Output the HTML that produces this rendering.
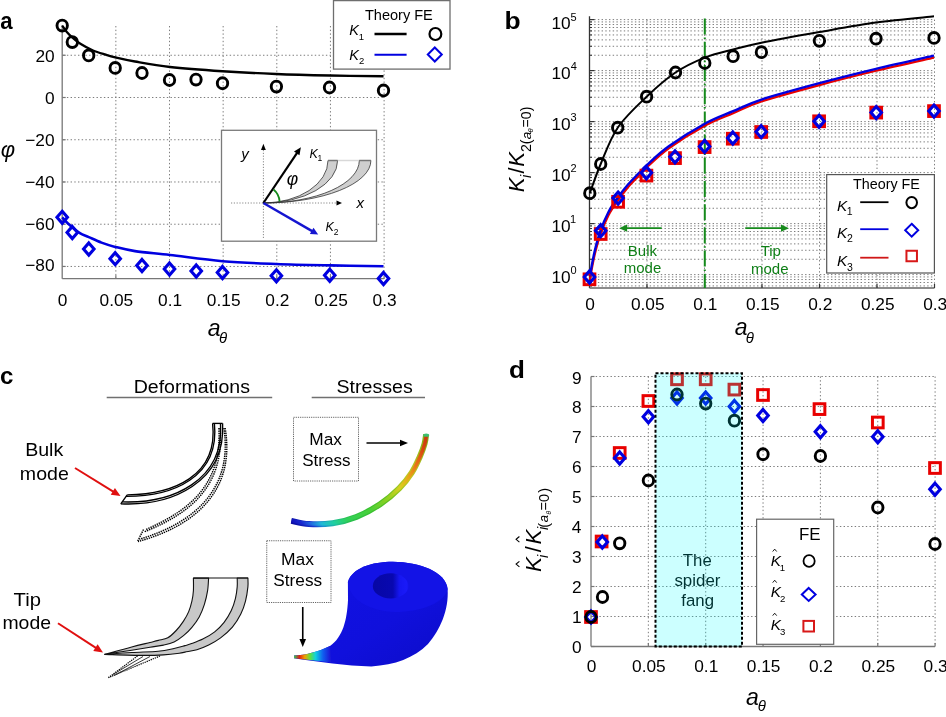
<!DOCTYPE html>
<html><head><meta charset="utf-8"><style>
html,body{margin:0;padding:0;background:#fff;width:946px;height:717px;overflow:hidden;}
svg{display:block;filter:blur(0.35px);}
text{font-family:"Liberation Sans",sans-serif;}
</style></head><body>
<svg width="946" height="717" viewBox="0 0 946 717">
<rect width="946" height="717" fill="#fff"/>
<line x1="63.20" y1="55.26" x2="384.10" y2="55.26" stroke="#7c7c7c" stroke-width="1" stroke-dasharray="1.4 2.3"/>
<line x1="63.20" y1="97.50" x2="384.10" y2="97.50" stroke="#7c7c7c" stroke-width="1" stroke-dasharray="1.4 2.3"/>
<line x1="63.20" y1="139.74" x2="384.10" y2="139.74" stroke="#7c7c7c" stroke-width="1" stroke-dasharray="1.4 2.3"/>
<line x1="63.20" y1="181.98" x2="384.10" y2="181.98" stroke="#7c7c7c" stroke-width="1" stroke-dasharray="1.4 2.3"/>
<line x1="63.20" y1="224.22" x2="384.10" y2="224.22" stroke="#7c7c7c" stroke-width="1" stroke-dasharray="1.4 2.3"/>
<line x1="63.20" y1="266.46" x2="384.10" y2="266.46" stroke="#7c7c7c" stroke-width="1" stroke-dasharray="1.4 2.3"/>
<line x1="115.85" y1="26.00" x2="115.85" y2="278.70" stroke="#7c7c7c" stroke-width="1" stroke-dasharray="1.4 2.3"/>
<line x1="169.50" y1="26.00" x2="169.50" y2="278.70" stroke="#7c7c7c" stroke-width="1" stroke-dasharray="1.4 2.3"/>
<line x1="223.15" y1="26.00" x2="223.15" y2="278.70" stroke="#7c7c7c" stroke-width="1" stroke-dasharray="1.4 2.3"/>
<line x1="276.80" y1="26.00" x2="276.80" y2="278.70" stroke="#7c7c7c" stroke-width="1" stroke-dasharray="1.4 2.3"/>
<line x1="330.45" y1="26.00" x2="330.45" y2="278.70" stroke="#7c7c7c" stroke-width="1" stroke-dasharray="1.4 2.3"/>
<line x1="384.10" y1="26.00" x2="384.10" y2="278.70" stroke="#7c7c7c" stroke-width="1" stroke-dasharray="1.4 2.3"/>
<line x1="62.20" y1="25.00" x2="62.20" y2="278.70" stroke="#777777" stroke-width="1.30" />
<line x1="62.20" y1="278.70" x2="384.10" y2="278.70" stroke="#777777" stroke-width="1.30" />
<line x1="62.20" y1="55.26" x2="65.70" y2="55.26" stroke="#777777" stroke-width="1.20" />
<line x1="62.20" y1="97.50" x2="65.70" y2="97.50" stroke="#777777" stroke-width="1.20" />
<line x1="62.20" y1="139.74" x2="65.70" y2="139.74" stroke="#777777" stroke-width="1.20" />
<line x1="62.20" y1="181.98" x2="65.70" y2="181.98" stroke="#777777" stroke-width="1.20" />
<line x1="62.20" y1="224.22" x2="65.70" y2="224.22" stroke="#777777" stroke-width="1.20" />
<line x1="62.20" y1="266.46" x2="65.70" y2="266.46" stroke="#777777" stroke-width="1.20" />
<line x1="115.85" y1="278.70" x2="115.85" y2="275.20" stroke="#777777" stroke-width="1.20" />
<line x1="169.50" y1="278.70" x2="169.50" y2="275.20" stroke="#777777" stroke-width="1.20" />
<line x1="223.15" y1="278.70" x2="223.15" y2="275.20" stroke="#777777" stroke-width="1.20" />
<line x1="276.80" y1="278.70" x2="276.80" y2="275.20" stroke="#777777" stroke-width="1.20" />
<line x1="330.45" y1="278.70" x2="330.45" y2="275.20" stroke="#777777" stroke-width="1.20" />
<line x1="384.10" y1="278.70" x2="384.10" y2="275.20" stroke="#777777" stroke-width="1.20" />
<text transform="translate(35.49,61.76)" font-size="17.30" >20</text>
<text transform="translate(45.00,103.70)" font-size="17.30" >0</text>
<text transform="translate(25.28,145.64)" font-size="17.30" >−20</text>
<text transform="translate(25.28,187.58)" font-size="17.30" >−40</text>
<text transform="translate(25.28,229.52)" font-size="17.30" >−60</text>
<text transform="translate(25.28,271.46)" font-size="17.30" >−80</text>
<text transform="translate(57.86,305.70)" font-size="17.30" >0</text>
<text transform="translate(99.57,305.70)" font-size="17.30" >0.05</text>
<text transform="translate(158.06,305.70)" font-size="17.30" >0.1</text>
<text transform="translate(206.87,305.70)" font-size="17.30" >0.15</text>
<text transform="translate(265.36,305.70)" font-size="17.30" >0.2</text>
<text transform="translate(314.17,305.70)" font-size="17.30" >0.25</text>
<text transform="translate(372.58,305.70)" font-size="17.30" >0.3</text>
<text transform="translate(207.74,335.80)" font-size="23.00" font-style="italic" >a</text>
<text transform="translate(219.05,342.70)" font-size="15.00" font-family="Liberation Serif" font-style="italic" >θ</text>
<text transform="translate(0.74,157.00)" font-size="22.00" font-family="Liberation Serif" font-style="italic" >φ</text>
<text transform="translate(0.23,28.60) scale(0.9087,1)" font-size="24.50" font-weight="bold" >a</text>
<path d="M62.20,25.60 C62.97,26.65 65.08,29.90 66.80,31.90 C68.52,33.90 70.23,35.62 72.50,37.60 C74.77,39.58 76.98,41.65 80.40,43.80 C83.82,45.95 88.78,48.68 93.00,50.50 C97.22,52.32 102.00,53.57 105.70,54.70 C109.40,55.83 110.32,56.17 115.20,57.30 C120.08,58.43 125.87,59.88 135.00,61.50 C144.13,63.12 155.42,65.38 170.00,67.00 C184.58,68.62 204.83,70.08 222.50,71.25 C240.17,72.42 258.08,73.29 276.00,74.00 C293.92,74.71 312.08,75.12 330.00,75.50 C347.92,75.88 374.58,76.12 383.50,76.25" fill="none" stroke="#000" stroke-width="2.3"/>
<path d="M62.20,217.30 C63.12,218.28 64.82,220.60 67.70,223.20 C70.58,225.80 75.98,230.58 79.50,232.90 C83.02,235.22 85.13,235.48 88.80,237.10 C92.47,238.72 97.10,240.97 101.50,242.60 C105.90,244.23 109.62,245.48 115.20,246.90 C120.78,248.32 125.87,249.75 135.00,251.10 C144.13,252.45 155.42,253.32 170.00,255.00 C184.58,256.68 204.83,259.70 222.50,261.20 C240.17,262.70 258.08,263.30 276.00,264.00 C293.92,264.70 312.08,265.03 330.00,265.40 C347.92,265.77 374.58,266.07 383.50,266.20" fill="none" stroke="#0000e0" stroke-width="2.6"/>
<ellipse cx="62.20" cy="25.60" rx="5.20" ry="5.46" fill="none" stroke="#000" stroke-width="2.90"/>
<ellipse cx="72.30" cy="42.10" rx="5.20" ry="5.46" fill="none" stroke="#000" stroke-width="2.90"/>
<ellipse cx="88.70" cy="55.40" rx="5.20" ry="5.46" fill="none" stroke="#000" stroke-width="2.90"/>
<ellipse cx="115.20" cy="67.90" rx="5.20" ry="5.46" fill="none" stroke="#000" stroke-width="2.90"/>
<ellipse cx="142.00" cy="73.00" rx="5.20" ry="5.46" fill="none" stroke="#000" stroke-width="2.90"/>
<ellipse cx="169.50" cy="80.00" rx="5.20" ry="5.46" fill="none" stroke="#000" stroke-width="2.90"/>
<ellipse cx="196.00" cy="79.60" rx="5.20" ry="5.46" fill="none" stroke="#000" stroke-width="2.90"/>
<ellipse cx="222.50" cy="83.25" rx="5.20" ry="5.46" fill="none" stroke="#000" stroke-width="2.90"/>
<ellipse cx="276.40" cy="86.60" rx="5.20" ry="5.46" fill="none" stroke="#000" stroke-width="2.90"/>
<ellipse cx="329.50" cy="87.50" rx="5.20" ry="5.46" fill="none" stroke="#000" stroke-width="2.90"/>
<ellipse cx="383.50" cy="90.50" rx="5.20" ry="5.46" fill="none" stroke="#000" stroke-width="2.90"/>
<path d="M62.20,211.25L67.45,217.30L62.20,223.35L56.95,217.30Z" fill="none" stroke="#0000e0" stroke-width="3.10" stroke-linejoin="miter" stroke-miterlimit="10"/>
<path d="M72.30,226.45L77.55,232.50L72.30,238.55L67.05,232.50Z" fill="none" stroke="#0000e0" stroke-width="3.10" stroke-linejoin="miter" stroke-miterlimit="10"/>
<path d="M88.80,242.95L94.05,249.00L88.80,255.05L83.55,249.00Z" fill="none" stroke="#0000e0" stroke-width="3.10" stroke-linejoin="miter" stroke-miterlimit="10"/>
<path d="M115.20,252.65L120.45,258.70L115.20,264.75L109.95,258.70Z" fill="none" stroke="#0000e0" stroke-width="3.10" stroke-linejoin="miter" stroke-miterlimit="10"/>
<path d="M142.00,259.45L147.25,265.50L142.00,271.55L136.75,265.50Z" fill="none" stroke="#0000e0" stroke-width="3.10" stroke-linejoin="miter" stroke-miterlimit="10"/>
<path d="M169.50,262.95L174.75,269.00L169.50,275.05L164.25,269.00Z" fill="none" stroke="#0000e0" stroke-width="3.10" stroke-linejoin="miter" stroke-miterlimit="10"/>
<path d="M196.25,264.95L201.50,271.00L196.25,277.05L191.00,271.00Z" fill="none" stroke="#0000e0" stroke-width="3.10" stroke-linejoin="miter" stroke-miterlimit="10"/>
<path d="M222.50,266.45L227.75,272.50L222.50,278.55L217.25,272.50Z" fill="none" stroke="#0000e0" stroke-width="3.10" stroke-linejoin="miter" stroke-miterlimit="10"/>
<path d="M276.40,269.75L281.65,275.80L276.40,281.85L271.15,275.80Z" fill="none" stroke="#0000e0" stroke-width="3.10" stroke-linejoin="miter" stroke-miterlimit="10"/>
<path d="M329.75,269.20L335.00,275.25L329.75,281.30L324.50,275.25Z" fill="none" stroke="#0000e0" stroke-width="3.10" stroke-linejoin="miter" stroke-miterlimit="10"/>
<path d="M383.50,272.45L388.75,278.50L383.50,284.55L378.25,278.50Z" fill="none" stroke="#0000e0" stroke-width="3.10" stroke-linejoin="miter" stroke-miterlimit="10"/>
<rect x="333.5" y="0.6" width="116.5" height="68.5" fill="#fff" stroke="#6e6e6e" stroke-width="1.3"/>
<text transform="translate(364.91,19.70) scale(1.0045,1)" font-size="14.50" >Theory FE</text>
<text transform="translate(349.37,35.30)" font-size="14.50" font-style="italic" >K</text>
<text transform="translate(358.64,40.00)" font-size="9.50" >1</text>
<text transform="translate(349.37,59.60)" font-size="14.50" font-style="italic" >K</text>
<text transform="translate(358.93,64.30)" font-size="9.50" >2</text>
<line x1="374.50" y1="34.00" x2="406.60" y2="34.00" stroke="#000" stroke-width="2.40" />
<line x1="374.50" y1="54.80" x2="406.60" y2="54.80" stroke="#0000e0" stroke-width="1.90" />
<ellipse cx="435.40" cy="34.00" rx="5.90" ry="6.00" fill="none" stroke="#000" stroke-width="2.20"/>
<path d="M434.80,47.50L441.80,54.50L434.80,61.50L427.80,54.50Z" fill="none" stroke="#0000e0" stroke-width="2.00" stroke-linejoin="miter" stroke-miterlimit="10"/>
<rect x="221.5" y="130.3" width="155" height="110.9" fill="#fff" stroke="#7a7a7a" stroke-width="1.3"/>
<line x1="231" y1="203.00" x2="338" y2="203.00" stroke="#888" stroke-width="1" stroke-dasharray="1.2 1.6"/>
<line x1="263.40" y1="150" x2="263.40" y2="239.5" stroke="#888" stroke-width="1" stroke-dasharray="1.2 1.6"/>
<path d="M342,203 L336.5,200.5 L336.5,205.5Z" fill="#000"/>
<path d="M263.4,143.8 L261,150 L265.8,150Z" fill="#000"/>
<path d="M263.40,203.00 A74.20,42.50 0 0 0 337.60,160.50 L328.00,160.50 A64.60,42.50 0 0 1 263.40,203.00 Z" fill="#cfcfcf" stroke="#333" stroke-width="0.8"/>
<path d="M263.40,203.00 A107.50,42.50 0 0 0 370.90,160.50 L359.30,160.50 A95.90,42.50 0 0 1 263.40,203.00 Z" fill="#cfcfcf" stroke="#333" stroke-width="0.8"/>
<line x1="337.6" y1="160.5" x2="359.3" y2="160.5" stroke="#d8d8d8" stroke-width="1.5"/>
<line x1="328" y1="160.5" x2="337.6" y2="160.5" stroke="#777" stroke-width="1.5"/>
<line x1="359.3" y1="160.5" x2="370.9" y2="160.5" stroke="#777" stroke-width="1.5"/>
<line x1="263.40" y1="203.00" x2="297.27" y2="152.59" stroke="#000" stroke-width="2.20"/>
<path d="M300.90,147.20L299.46,155.27L293.98,151.58Z" fill="#000"/>
<line x1="263.40" y1="203.00" x2="312.57" y2="231.35" stroke="#1515d0" stroke-width="2.40"/>
<path d="M318.20,234.60L309.90,233.97L313.50,227.73Z" fill="#1515d0"/>
<path d="M273.5,189.5 A17,17 0 0 1 279.6,201.5" fill="none" stroke="#168a1c" stroke-width="1.8"/>
<text transform="translate(241.25,159.00)" font-size="15.00" font-style="italic" >y</text>
<text transform="translate(356.40,207.90)" font-size="15.00" font-style="italic" >x</text>
<text transform="translate(286.78,185.00)" font-size="17.50" font-family="Liberation Serif" font-style="italic" >φ</text>
<text transform="translate(309.52,158.00)" font-size="12.50" font-style="italic" >K</text>
<text transform="translate(317.52,161.00)" font-size="8.50" >1</text>
<text transform="translate(325.43,231.10)" font-size="12.50" font-style="italic" >K</text>
<text transform="translate(333.68,234.60)" font-size="8.50" >2</text>
<line x1="590.50" y1="285.91" x2="934.50" y2="285.91" stroke="#7c7c7c" stroke-width="1" stroke-dasharray="1.4 2.3"/>
<line x1="590.50" y1="282.50" x2="934.50" y2="282.50" stroke="#7c7c7c" stroke-width="1" stroke-dasharray="1.4 2.3"/>
<line x1="590.50" y1="279.54" x2="934.50" y2="279.54" stroke="#7c7c7c" stroke-width="1" stroke-dasharray="1.4 2.3"/>
<line x1="590.50" y1="276.93" x2="934.50" y2="276.93" stroke="#7c7c7c" stroke-width="1" stroke-dasharray="1.4 2.3"/>
<line x1="590.50" y1="274.60" x2="934.50" y2="274.60" stroke="#7c7c7c" stroke-width="1" stroke-dasharray="1.4 2.3"/>
<line x1="590.50" y1="259.25" x2="934.50" y2="259.25" stroke="#7c7c7c" stroke-width="1" stroke-dasharray="1.4 2.3"/>
<line x1="590.50" y1="250.27" x2="934.50" y2="250.27" stroke="#7c7c7c" stroke-width="1" stroke-dasharray="1.4 2.3"/>
<line x1="590.50" y1="243.89" x2="934.50" y2="243.89" stroke="#7c7c7c" stroke-width="1" stroke-dasharray="1.4 2.3"/>
<line x1="590.50" y1="238.95" x2="934.50" y2="238.95" stroke="#7c7c7c" stroke-width="1" stroke-dasharray="1.4 2.3"/>
<line x1="590.50" y1="234.91" x2="934.50" y2="234.91" stroke="#7c7c7c" stroke-width="1" stroke-dasharray="1.4 2.3"/>
<line x1="590.50" y1="231.50" x2="934.50" y2="231.50" stroke="#7c7c7c" stroke-width="1" stroke-dasharray="1.4 2.3"/>
<line x1="590.50" y1="228.54" x2="934.50" y2="228.54" stroke="#7c7c7c" stroke-width="1" stroke-dasharray="1.4 2.3"/>
<line x1="590.50" y1="225.93" x2="934.50" y2="225.93" stroke="#7c7c7c" stroke-width="1" stroke-dasharray="1.4 2.3"/>
<line x1="590.50" y1="223.60" x2="934.50" y2="223.60" stroke="#7c7c7c" stroke-width="1" stroke-dasharray="1.4 2.3"/>
<line x1="590.50" y1="208.25" x2="934.50" y2="208.25" stroke="#7c7c7c" stroke-width="1" stroke-dasharray="1.4 2.3"/>
<line x1="590.50" y1="199.27" x2="934.50" y2="199.27" stroke="#7c7c7c" stroke-width="1" stroke-dasharray="1.4 2.3"/>
<line x1="590.50" y1="192.89" x2="934.50" y2="192.89" stroke="#7c7c7c" stroke-width="1" stroke-dasharray="1.4 2.3"/>
<line x1="590.50" y1="187.95" x2="934.50" y2="187.95" stroke="#7c7c7c" stroke-width="1" stroke-dasharray="1.4 2.3"/>
<line x1="590.50" y1="183.91" x2="934.50" y2="183.91" stroke="#7c7c7c" stroke-width="1" stroke-dasharray="1.4 2.3"/>
<line x1="590.50" y1="180.50" x2="934.50" y2="180.50" stroke="#7c7c7c" stroke-width="1" stroke-dasharray="1.4 2.3"/>
<line x1="590.50" y1="177.54" x2="934.50" y2="177.54" stroke="#7c7c7c" stroke-width="1" stroke-dasharray="1.4 2.3"/>
<line x1="590.50" y1="174.93" x2="934.50" y2="174.93" stroke="#7c7c7c" stroke-width="1" stroke-dasharray="1.4 2.3"/>
<line x1="590.50" y1="172.60" x2="934.50" y2="172.60" stroke="#7c7c7c" stroke-width="1" stroke-dasharray="1.4 2.3"/>
<line x1="590.50" y1="157.25" x2="934.50" y2="157.25" stroke="#7c7c7c" stroke-width="1" stroke-dasharray="1.4 2.3"/>
<line x1="590.50" y1="148.27" x2="934.50" y2="148.27" stroke="#7c7c7c" stroke-width="1" stroke-dasharray="1.4 2.3"/>
<line x1="590.50" y1="141.89" x2="934.50" y2="141.89" stroke="#7c7c7c" stroke-width="1" stroke-dasharray="1.4 2.3"/>
<line x1="590.50" y1="136.95" x2="934.50" y2="136.95" stroke="#7c7c7c" stroke-width="1" stroke-dasharray="1.4 2.3"/>
<line x1="590.50" y1="132.91" x2="934.50" y2="132.91" stroke="#7c7c7c" stroke-width="1" stroke-dasharray="1.4 2.3"/>
<line x1="590.50" y1="129.50" x2="934.50" y2="129.50" stroke="#7c7c7c" stroke-width="1" stroke-dasharray="1.4 2.3"/>
<line x1="590.50" y1="126.54" x2="934.50" y2="126.54" stroke="#7c7c7c" stroke-width="1" stroke-dasharray="1.4 2.3"/>
<line x1="590.50" y1="123.93" x2="934.50" y2="123.93" stroke="#7c7c7c" stroke-width="1" stroke-dasharray="1.4 2.3"/>
<line x1="590.50" y1="121.60" x2="934.50" y2="121.60" stroke="#7c7c7c" stroke-width="1" stroke-dasharray="1.4 2.3"/>
<line x1="590.50" y1="106.25" x2="934.50" y2="106.25" stroke="#7c7c7c" stroke-width="1" stroke-dasharray="1.4 2.3"/>
<line x1="590.50" y1="97.27" x2="934.50" y2="97.27" stroke="#7c7c7c" stroke-width="1" stroke-dasharray="1.4 2.3"/>
<line x1="590.50" y1="90.89" x2="934.50" y2="90.89" stroke="#7c7c7c" stroke-width="1" stroke-dasharray="1.4 2.3"/>
<line x1="590.50" y1="85.95" x2="934.50" y2="85.95" stroke="#7c7c7c" stroke-width="1" stroke-dasharray="1.4 2.3"/>
<line x1="590.50" y1="81.91" x2="934.50" y2="81.91" stroke="#7c7c7c" stroke-width="1" stroke-dasharray="1.4 2.3"/>
<line x1="590.50" y1="78.50" x2="934.50" y2="78.50" stroke="#7c7c7c" stroke-width="1" stroke-dasharray="1.4 2.3"/>
<line x1="590.50" y1="75.54" x2="934.50" y2="75.54" stroke="#7c7c7c" stroke-width="1" stroke-dasharray="1.4 2.3"/>
<line x1="590.50" y1="72.93" x2="934.50" y2="72.93" stroke="#7c7c7c" stroke-width="1" stroke-dasharray="1.4 2.3"/>
<line x1="590.50" y1="70.60" x2="934.50" y2="70.60" stroke="#7c7c7c" stroke-width="1" stroke-dasharray="1.4 2.3"/>
<line x1="590.50" y1="55.25" x2="934.50" y2="55.25" stroke="#7c7c7c" stroke-width="1" stroke-dasharray="1.4 2.3"/>
<line x1="590.50" y1="46.27" x2="934.50" y2="46.27" stroke="#7c7c7c" stroke-width="1" stroke-dasharray="1.4 2.3"/>
<line x1="590.50" y1="39.89" x2="934.50" y2="39.89" stroke="#7c7c7c" stroke-width="1" stroke-dasharray="1.4 2.3"/>
<line x1="590.50" y1="34.95" x2="934.50" y2="34.95" stroke="#7c7c7c" stroke-width="1" stroke-dasharray="1.4 2.3"/>
<line x1="590.50" y1="30.91" x2="934.50" y2="30.91" stroke="#7c7c7c" stroke-width="1" stroke-dasharray="1.4 2.3"/>
<line x1="590.50" y1="27.50" x2="934.50" y2="27.50" stroke="#7c7c7c" stroke-width="1" stroke-dasharray="1.4 2.3"/>
<line x1="590.50" y1="24.54" x2="934.50" y2="24.54" stroke="#7c7c7c" stroke-width="1" stroke-dasharray="1.4 2.3"/>
<line x1="590.50" y1="21.93" x2="934.50" y2="21.93" stroke="#7c7c7c" stroke-width="1" stroke-dasharray="1.4 2.3"/>
<line x1="590.50" y1="19.60" x2="934.50" y2="19.60" stroke="#7c7c7c" stroke-width="1" stroke-dasharray="1.4 2.3"/>
<line x1="647.00" y1="19.60" x2="647.00" y2="288.00" stroke="#7c7c7c" stroke-width="1" stroke-dasharray="1.4 2.3"/>
<line x1="704.50" y1="19.60" x2="704.50" y2="288.00" stroke="#7c7c7c" stroke-width="1" stroke-dasharray="1.4 2.3"/>
<line x1="762.00" y1="19.60" x2="762.00" y2="288.00" stroke="#7c7c7c" stroke-width="1" stroke-dasharray="1.4 2.3"/>
<line x1="819.50" y1="19.60" x2="819.50" y2="288.00" stroke="#7c7c7c" stroke-width="1" stroke-dasharray="1.4 2.3"/>
<line x1="877.00" y1="19.60" x2="877.00" y2="288.00" stroke="#7c7c7c" stroke-width="1" stroke-dasharray="1.4 2.3"/>
<line x1="934.50" y1="19.60" x2="934.50" y2="288.00" stroke="#7c7c7c" stroke-width="1" stroke-dasharray="1.4 2.3"/>
<line x1="589.50" y1="16.30" x2="589.50" y2="288.00" stroke="#333" stroke-width="1.30" />
<line x1="589.50" y1="288.00" x2="934.50" y2="288.00" stroke="#666" stroke-width="1.50" />
<line x1="589.50" y1="274.60" x2="594.50" y2="274.60" stroke="#333" stroke-width="1.20" />
<line x1="589.50" y1="259.25" x2="592.00" y2="259.25" stroke="#333" stroke-width="1.00" />
<line x1="589.50" y1="250.27" x2="592.00" y2="250.27" stroke="#333" stroke-width="1.00" />
<line x1="589.50" y1="243.89" x2="592.00" y2="243.89" stroke="#333" stroke-width="1.00" />
<line x1="589.50" y1="238.95" x2="592.00" y2="238.95" stroke="#333" stroke-width="1.00" />
<line x1="589.50" y1="234.91" x2="592.00" y2="234.91" stroke="#333" stroke-width="1.00" />
<line x1="589.50" y1="231.50" x2="592.00" y2="231.50" stroke="#333" stroke-width="1.00" />
<line x1="589.50" y1="228.54" x2="592.00" y2="228.54" stroke="#333" stroke-width="1.00" />
<line x1="589.50" y1="225.93" x2="592.00" y2="225.93" stroke="#333" stroke-width="1.00" />
<line x1="589.50" y1="223.60" x2="594.50" y2="223.60" stroke="#333" stroke-width="1.20" />
<line x1="589.50" y1="208.25" x2="592.00" y2="208.25" stroke="#333" stroke-width="1.00" />
<line x1="589.50" y1="199.27" x2="592.00" y2="199.27" stroke="#333" stroke-width="1.00" />
<line x1="589.50" y1="192.89" x2="592.00" y2="192.89" stroke="#333" stroke-width="1.00" />
<line x1="589.50" y1="187.95" x2="592.00" y2="187.95" stroke="#333" stroke-width="1.00" />
<line x1="589.50" y1="183.91" x2="592.00" y2="183.91" stroke="#333" stroke-width="1.00" />
<line x1="589.50" y1="180.50" x2="592.00" y2="180.50" stroke="#333" stroke-width="1.00" />
<line x1="589.50" y1="177.54" x2="592.00" y2="177.54" stroke="#333" stroke-width="1.00" />
<line x1="589.50" y1="174.93" x2="592.00" y2="174.93" stroke="#333" stroke-width="1.00" />
<line x1="589.50" y1="172.60" x2="594.50" y2="172.60" stroke="#333" stroke-width="1.20" />
<line x1="589.50" y1="157.25" x2="592.00" y2="157.25" stroke="#333" stroke-width="1.00" />
<line x1="589.50" y1="148.27" x2="592.00" y2="148.27" stroke="#333" stroke-width="1.00" />
<line x1="589.50" y1="141.89" x2="592.00" y2="141.89" stroke="#333" stroke-width="1.00" />
<line x1="589.50" y1="136.95" x2="592.00" y2="136.95" stroke="#333" stroke-width="1.00" />
<line x1="589.50" y1="132.91" x2="592.00" y2="132.91" stroke="#333" stroke-width="1.00" />
<line x1="589.50" y1="129.50" x2="592.00" y2="129.50" stroke="#333" stroke-width="1.00" />
<line x1="589.50" y1="126.54" x2="592.00" y2="126.54" stroke="#333" stroke-width="1.00" />
<line x1="589.50" y1="123.93" x2="592.00" y2="123.93" stroke="#333" stroke-width="1.00" />
<line x1="589.50" y1="121.60" x2="594.50" y2="121.60" stroke="#333" stroke-width="1.20" />
<line x1="589.50" y1="106.25" x2="592.00" y2="106.25" stroke="#333" stroke-width="1.00" />
<line x1="589.50" y1="97.27" x2="592.00" y2="97.27" stroke="#333" stroke-width="1.00" />
<line x1="589.50" y1="90.89" x2="592.00" y2="90.89" stroke="#333" stroke-width="1.00" />
<line x1="589.50" y1="85.95" x2="592.00" y2="85.95" stroke="#333" stroke-width="1.00" />
<line x1="589.50" y1="81.91" x2="592.00" y2="81.91" stroke="#333" stroke-width="1.00" />
<line x1="589.50" y1="78.50" x2="592.00" y2="78.50" stroke="#333" stroke-width="1.00" />
<line x1="589.50" y1="75.54" x2="592.00" y2="75.54" stroke="#333" stroke-width="1.00" />
<line x1="589.50" y1="72.93" x2="592.00" y2="72.93" stroke="#333" stroke-width="1.00" />
<line x1="589.50" y1="70.60" x2="594.50" y2="70.60" stroke="#333" stroke-width="1.20" />
<line x1="589.50" y1="55.25" x2="592.00" y2="55.25" stroke="#333" stroke-width="1.00" />
<line x1="589.50" y1="46.27" x2="592.00" y2="46.27" stroke="#333" stroke-width="1.00" />
<line x1="589.50" y1="39.89" x2="592.00" y2="39.89" stroke="#333" stroke-width="1.00" />
<line x1="589.50" y1="34.95" x2="592.00" y2="34.95" stroke="#333" stroke-width="1.00" />
<line x1="589.50" y1="30.91" x2="592.00" y2="30.91" stroke="#333" stroke-width="1.00" />
<line x1="589.50" y1="27.50" x2="592.00" y2="27.50" stroke="#333" stroke-width="1.00" />
<line x1="589.50" y1="24.54" x2="592.00" y2="24.54" stroke="#333" stroke-width="1.00" />
<line x1="589.50" y1="21.93" x2="592.00" y2="21.93" stroke="#333" stroke-width="1.00" />
<line x1="589.50" y1="19.60" x2="594.50" y2="19.60" stroke="#333" stroke-width="1.20" />
<line x1="589.50" y1="285.91" x2="592.00" y2="285.91" stroke="#333" stroke-width="1.00" />
<line x1="589.50" y1="282.50" x2="592.00" y2="282.50" stroke="#333" stroke-width="1.00" />
<line x1="589.50" y1="279.54" x2="592.00" y2="279.54" stroke="#333" stroke-width="1.00" />
<line x1="589.50" y1="276.93" x2="592.00" y2="276.93" stroke="#333" stroke-width="1.00" />
<line x1="647.00" y1="288.00" x2="647.00" y2="284.00" stroke="#333" stroke-width="1.20" />
<line x1="704.50" y1="288.00" x2="704.50" y2="284.00" stroke="#333" stroke-width="1.20" />
<line x1="762.00" y1="288.00" x2="762.00" y2="284.00" stroke="#333" stroke-width="1.20" />
<line x1="819.50" y1="288.00" x2="819.50" y2="284.00" stroke="#333" stroke-width="1.20" />
<line x1="877.00" y1="288.00" x2="877.00" y2="284.00" stroke="#333" stroke-width="1.20" />
<line x1="934.50" y1="288.00" x2="934.50" y2="284.00" stroke="#333" stroke-width="1.20" />
<text transform="translate(551.49,282.60)" font-size="17.30" >10</text>
<text transform="translate(570.56,273.60)" font-size="11.00" >0</text>
<text transform="translate(551.49,231.60)" font-size="17.30" >10</text>
<text transform="translate(570.12,222.60)" font-size="11.00" >1</text>
<text transform="translate(551.49,180.60)" font-size="17.30" >10</text>
<text transform="translate(570.45,171.60)" font-size="11.00" >2</text>
<text transform="translate(551.49,129.60)" font-size="17.30" >10</text>
<text transform="translate(570.56,120.60)" font-size="11.00" >3</text>
<text transform="translate(551.49,78.60)" font-size="17.30" >10</text>
<text transform="translate(570.78,69.60)" font-size="11.00" >4</text>
<text transform="translate(551.49,28.60)" font-size="17.30" >10</text>
<text transform="translate(570.56,20.90)" font-size="11.00" >5</text>
<text transform="translate(585.36,310.30)" font-size="17.30" >0</text>
<text transform="translate(630.92,310.30)" font-size="17.30" >0.05</text>
<text transform="translate(693.26,310.30)" font-size="17.30" >0.1</text>
<text transform="translate(745.92,310.30)" font-size="17.30" >0.15</text>
<text transform="translate(808.26,310.30)" font-size="17.30" >0.2</text>
<text transform="translate(860.92,310.30)" font-size="17.30" >0.25</text>
<text transform="translate(923.18,310.30)" font-size="17.30" >0.3</text>
<text transform="translate(734.84,335.30)" font-size="23.00" font-style="italic" >a</text>
<text transform="translate(745.75,342.50)" font-size="15.00" font-family="Liberation Serif" font-style="italic" >θ</text>
<text transform="translate(504.45,28.80) scale(1.0909,1)" font-size="24.20" font-weight="bold" >b</text>
<g transform="translate(524.3,192) rotate(-90)">
<text transform="translate(-0.36,0.00)" font-size="22.00" font-style="italic" >K</text>
<text transform="translate(14.12,7.00)" font-size="14.00" font-style="italic" >i</text>
<text transform="translate(18.50,0.00)" font-size="21.50" >/</text>
<text transform="translate(25.34,0.00)" font-size="22.00" font-style="italic" >K</text>
<text transform="translate(39.89,7.00)" font-size="14.20" >2(</text>
<text transform="translate(52.83,7.00)" font-size="13.50" font-style="italic" >a</text>
<text transform="translate(59.42,9.00)" font-size="7.50" font-family="Liberation Serif" font-style="italic" >θ</text>
<text transform="translate(64.49,7.00)" font-size="14.20" >=0)</text>
</g>
<line x1="704.80" y1="18.60" x2="704.80" y2="288.00" stroke="#168a1c" stroke-width="2" stroke-dasharray="16 2.8 1.6 2.8"/>
<line x1="661.70" y1="228.20" x2="626.10" y2="228.20" stroke="#168a1c" stroke-width="1.80"/>
<path d="M619.10,228.20L627.10,224.60L627.10,231.80Z" fill="#168a1c"/>
<line x1="745.25" y1="228.20" x2="782.00" y2="228.20" stroke="#168a1c" stroke-width="1.80"/>
<path d="M789.00,228.20L781.00,231.80L781.00,224.60Z" fill="#168a1c"/>
<text transform="translate(627.85,255.50)" font-size="15.00" fill="#0e7e16" >Bulk</text>
<text transform="translate(623.73,272.80)" font-size="15.00" fill="#0e7e16" >mode</text>
<text transform="translate(760.63,256.30)" font-size="15.00" fill="#0e7e16" >Tip</text>
<text transform="translate(751.03,273.50)" font-size="15.00" fill="#0e7e16" >mode</text>
<path d="M589.80,193.20 C591.62,188.33 596.05,174.92 600.70,164.00 C605.35,153.08 610.05,138.92 617.70,127.70 C625.35,116.48 636.97,105.90 646.60,96.70 C656.23,87.50 665.80,79.02 675.50,72.50 C685.20,65.98 695.20,61.43 704.80,57.60 C714.40,53.77 723.67,51.98 733.10,49.50 C742.53,47.02 747.02,45.62 761.40,42.70 C775.78,39.78 800.30,35.37 819.40,32.00 C838.50,28.63 856.90,25.12 876.00,22.50 C895.10,19.88 924.33,17.33 934.00,16.30" fill="none" stroke="#000" stroke-width="2.0"/>
<path d="M589.80,279.90 C590.58,275.85 592.73,263.17 594.50,255.60 C596.27,248.03 598.07,241.23 600.40,234.50 C602.73,227.77 605.65,220.78 608.50,215.20 C611.35,209.62 614.25,205.65 617.50,201.00 C620.75,196.35 624.38,191.57 628.00,187.30 C631.62,183.03 636.10,178.70 639.20,175.40 C642.30,172.10 641.67,172.02 646.60,167.50 C651.53,162.98 659.10,155.27 668.80,148.30 C678.50,141.33 694.08,131.55 704.80,125.70 C715.52,119.85 723.67,117.23 733.10,113.20 C742.53,109.17 747.02,106.18 761.40,101.50 C775.78,96.82 800.30,90.22 819.40,85.10 C838.50,79.98 856.90,75.38 876.00,70.80 C895.10,66.22 924.33,59.80 934.00,57.60" fill="none" stroke="#e80000" stroke-width="2.2"/>
<path d="M589.80,276.30 C590.58,272.25 592.73,259.55 594.50,252.00 C596.27,244.45 598.07,237.67 600.40,231.00 C602.73,224.33 605.65,217.50 608.50,212.00 C611.35,206.50 614.25,202.58 617.50,198.00 C620.75,193.42 624.38,188.68 628.00,184.50 C631.62,180.32 636.10,176.12 639.20,172.90 C642.30,169.68 641.67,169.65 646.60,165.20 C651.53,160.75 659.10,153.12 668.80,146.20 C678.50,139.28 694.08,129.53 704.80,123.70 C715.52,117.87 723.67,115.22 733.10,111.20 C742.53,107.18 747.02,104.27 761.40,99.60 C775.78,94.93 800.30,88.32 819.40,83.20 C838.50,78.08 856.90,73.48 876.00,68.90 C895.10,64.32 924.33,57.90 934.00,55.70" fill="none" stroke="#0000e0" stroke-width="2.4"/>
<ellipse cx="589.80" cy="193.20" rx="5.20" ry="5.46" fill="none" stroke="#000" stroke-width="2.90"/>
<ellipse cx="600.70" cy="164.00" rx="5.20" ry="5.46" fill="none" stroke="#000" stroke-width="2.90"/>
<ellipse cx="617.70" cy="127.70" rx="5.20" ry="5.46" fill="none" stroke="#000" stroke-width="2.90"/>
<ellipse cx="646.60" cy="96.70" rx="5.20" ry="5.46" fill="none" stroke="#000" stroke-width="2.90"/>
<ellipse cx="675.50" cy="72.50" rx="5.20" ry="5.46" fill="none" stroke="#000" stroke-width="2.90"/>
<ellipse cx="704.80" cy="63.00" rx="5.20" ry="5.46" fill="none" stroke="#000" stroke-width="2.90"/>
<ellipse cx="733.10" cy="56.20" rx="5.20" ry="5.46" fill="none" stroke="#000" stroke-width="2.90"/>
<ellipse cx="761.40" cy="52.20" rx="5.20" ry="5.46" fill="none" stroke="#000" stroke-width="2.90"/>
<ellipse cx="819.40" cy="40.80" rx="5.20" ry="5.46" fill="none" stroke="#000" stroke-width="2.90"/>
<ellipse cx="876.00" cy="38.70" rx="5.20" ry="5.46" fill="none" stroke="#000" stroke-width="2.90"/>
<ellipse cx="934.00" cy="37.90" rx="5.20" ry="5.46" fill="none" stroke="#000" stroke-width="2.90"/>
<rect x="584.15" y="273.95" width="10.70" height="10.70" fill="none" stroke="#e80000" stroke-width="3.00"/>
<rect x="595.35" y="228.65" width="10.70" height="10.70" fill="none" stroke="#e80000" stroke-width="3.00"/>
<rect x="612.75" y="196.45" width="10.70" height="10.70" fill="none" stroke="#e80000" stroke-width="3.00"/>
<rect x="641.05" y="170.25" width="10.70" height="10.70" fill="none" stroke="#e80000" stroke-width="3.00"/>
<rect x="669.65" y="152.75" width="10.70" height="10.70" fill="none" stroke="#e80000" stroke-width="3.00"/>
<rect x="699.25" y="141.75" width="10.70" height="10.70" fill="none" stroke="#e80000" stroke-width="3.00"/>
<rect x="727.45" y="133.35" width="10.70" height="10.70" fill="none" stroke="#e80000" stroke-width="3.00"/>
<rect x="755.85" y="126.65" width="10.70" height="10.70" fill="none" stroke="#e80000" stroke-width="3.00"/>
<rect x="813.75" y="115.95" width="10.70" height="10.70" fill="none" stroke="#e80000" stroke-width="3.00"/>
<rect x="870.85" y="107.25" width="10.70" height="10.70" fill="none" stroke="#e80000" stroke-width="3.00"/>
<rect x="928.65" y="105.75" width="10.70" height="10.70" fill="none" stroke="#e80000" stroke-width="3.00"/>
<path d="M589.50,270.95L594.75,277.00L589.50,283.05L584.25,277.00Z" fill="none" stroke="#0000e0" stroke-width="3.10" stroke-linejoin="miter" stroke-miterlimit="10"/>
<path d="M600.70,224.65L605.95,230.70L600.70,236.75L595.45,230.70Z" fill="none" stroke="#0000e0" stroke-width="3.10" stroke-linejoin="miter" stroke-miterlimit="10"/>
<path d="M618.10,192.05L623.35,198.10L618.10,204.15L612.85,198.10Z" fill="none" stroke="#0000e0" stroke-width="3.10" stroke-linejoin="miter" stroke-miterlimit="10"/>
<path d="M646.40,166.75L651.65,172.80L646.40,178.85L641.15,172.80Z" fill="none" stroke="#0000e0" stroke-width="3.10" stroke-linejoin="miter" stroke-miterlimit="10"/>
<path d="M675.00,150.75L680.25,156.80L675.00,162.85L669.75,156.80Z" fill="none" stroke="#0000e0" stroke-width="3.10" stroke-linejoin="miter" stroke-miterlimit="10"/>
<path d="M704.60,140.35L709.85,146.40L704.60,152.45L699.35,146.40Z" fill="none" stroke="#0000e0" stroke-width="3.10" stroke-linejoin="miter" stroke-miterlimit="10"/>
<path d="M732.80,131.95L738.05,138.00L732.80,144.05L727.55,138.00Z" fill="none" stroke="#0000e0" stroke-width="3.10" stroke-linejoin="miter" stroke-miterlimit="10"/>
<path d="M761.20,125.65L766.45,131.70L761.20,137.75L755.95,131.70Z" fill="none" stroke="#0000e0" stroke-width="3.10" stroke-linejoin="miter" stroke-miterlimit="10"/>
<path d="M819.10,115.25L824.35,121.30L819.10,127.35L813.85,121.30Z" fill="none" stroke="#0000e0" stroke-width="3.10" stroke-linejoin="miter" stroke-miterlimit="10"/>
<path d="M876.20,106.55L881.45,112.60L876.20,118.65L870.95,112.60Z" fill="none" stroke="#0000e0" stroke-width="3.10" stroke-linejoin="miter" stroke-miterlimit="10"/>
<path d="M934.00,105.05L939.25,111.10L934.00,117.15L928.75,111.10Z" fill="none" stroke="#0000e0" stroke-width="3.10" stroke-linejoin="miter" stroke-miterlimit="10"/>
<rect x="826.7" y="174.6" width="107.7" height="98.4" fill="#fff" stroke="#555" stroke-width="1.2"/>
<text transform="translate(853.01,189.20) scale(1.0033,1)" font-size="14.30" >Theory FE</text>
<text transform="translate(837.04,210.80)" font-size="15.30" font-style="italic" >K</text>
<text transform="translate(846.66,215.10)" font-size="10.50" >1</text>
<line x1="860.20" y1="202.20" x2="888.50" y2="202.20" stroke="#000" stroke-width="1.80" />
<text transform="translate(837.04,237.80)" font-size="15.30" font-style="italic" >K</text>
<text transform="translate(846.98,242.10)" font-size="10.50" >2</text>
<line x1="860.20" y1="229.20" x2="888.50" y2="229.20" stroke="#0000e0" stroke-width="1.80" />
<text transform="translate(837.04,266.30)" font-size="15.30" font-style="italic" >K</text>
<text transform="translate(847.08,270.60)" font-size="10.50" >3</text>
<line x1="860.20" y1="257.70" x2="888.50" y2="257.70" stroke="#d01818" stroke-width="1.80" />
<ellipse cx="911.70" cy="202.60" rx="5.30" ry="5.57" fill="none" stroke="#000" stroke-width="2.00"/>
<path d="M911.70,223.80L918.20,230.20L911.70,236.60L905.20,230.20Z" fill="none" stroke="#0000e0" stroke-width="2.00" stroke-linejoin="miter" stroke-miterlimit="10"/>
<rect x="906.45" y="250.75" width="10.50" height="10.50" fill="none" stroke="#d81818" stroke-width="2.00"/>
<text transform="translate(0.04,384.00) scale(0.9829,1)" font-size="24.50" font-weight="bold" >c</text>
<text transform="translate(133.63,392.90) scale(1.0202,1)" font-size="19.20" >Deformations</text>
<line x1="106.70" y1="397.40" x2="272.20" y2="397.40" stroke="#707070" stroke-width="1.50" />
<text transform="translate(336.42,393.20) scale(1.0225,1)" font-size="19.20" >Stresses</text>
<line x1="311.70" y1="397.60" x2="425.00" y2="397.60" stroke="#707070" stroke-width="1.50" />
<text transform="translate(25.13,455.80) scale(1.0782,1)" font-size="18.20" >Bulk</text>
<text transform="translate(19.83,479.80) scale(1.0642,1)" font-size="18.40" >mode</text>
<line x1="75.00" y1="468.00" x2="113.69" y2="491.81" stroke="#e01010" stroke-width="2.00"/>
<path d="M120.50,496.00L110.74,494.69L114.93,487.88Z" fill="#e01010"/>
<text transform="translate(13.60,605.60) scale(1.0762,1)" font-size="18.80" >Tip</text>
<text transform="translate(2.44,628.80) scale(1.0551,1)" font-size="18.40" >mode</text>
<line x1="58.00" y1="623.25" x2="96.29" y2="648.14" stroke="#e01010" stroke-width="2.00"/>
<path d="M103.00,652.50L93.27,650.95L97.63,644.24Z" fill="#e01010"/>
<g fill="none" stroke="#000" stroke-width="1.35">
<path d="M212.60,423.40 C218.61,476.53 172.55,494.38 127.20,494.80"/>
<path d="M214.40,423.40 C219.93,477.53 172.46,496.50 126.05,496.42"/>
<path d="M220.50,423.40 C224.41,480.95 172.16,503.70 122.14,501.91"/>
<path d="M222.60,423.40 C225.95,482.13 172.05,506.18 120.80,503.80"/>
<path d="M127.2,494.8 L120.8,503.8"/>
<path d="M212.6,423.4 L222.6,423.4"/>
</g>
<g fill="none" stroke="#000" stroke-width="1.45" stroke-dasharray="1.4 0.9">
<path d="M218.90,428.00 C221.73,482.50 192.85,509.07 145.53,529.65"/>
<path d="M220.10,428.00 C224.47,484.21 193.13,512.38 144.07,531.95"/>
<path d="M223.90,428.00 C233.16,489.65 194.03,522.85 139.43,539.25"/>
<path d="M225.10,428.00 C235.90,491.36 194.32,526.16 137.97,541.55"/>
<path d="M143.5,529.5 L137.5,541.5"/>
</g>
<path d="M193.40,578.10 C193.40,580.20 193.65,586.85 193.40,590.70 C193.15,594.55 192.68,597.72 191.90,601.20 C191.12,604.68 190.10,608.28 188.70,611.60 C187.30,614.92 185.58,617.95 183.50,621.10 C181.42,624.25 178.82,627.72 176.20,630.50 C173.58,633.28 170.77,636.15 167.80,637.80 C164.83,639.45 161.37,639.62 158.40,640.40 C155.43,641.18 154.45,641.40 150.00,642.50 C145.55,643.60 139.23,645.02 131.70,647.00 C124.17,648.98 109.28,653.17 104.80,654.40 L104.80,654.40 C109.28,653.70 124.17,651.40 131.70,650.20 C139.23,649.00 144.68,648.05 150.00,647.20 C155.32,646.35 159.58,645.97 163.60,645.10 C167.62,644.23 170.78,643.57 174.10,642.00 C177.42,640.43 180.53,638.15 183.50,635.70 C186.47,633.25 189.28,630.43 191.90,627.30 C194.52,624.17 197.12,620.73 199.20,616.90 C201.28,613.07 203.00,608.67 204.40,604.30 C205.80,599.93 206.90,595.07 207.60,590.70 C208.30,586.33 208.43,580.20 208.60,578.10 Z" fill="#c8c8c8" stroke="#111" stroke-width="1.1" stroke-linejoin="round"/>
<path d="M237.20,578.00 C237.20,579.48 237.50,583.45 237.20,586.90 C236.90,590.35 236.38,594.75 235.40,598.70 C234.42,602.65 233.18,606.65 231.30,610.60 C229.42,614.55 226.87,618.85 224.10,622.40 C221.33,625.95 218.25,629.12 214.70,631.90 C211.15,634.68 206.77,637.12 202.80,639.10 C198.83,641.08 193.87,642.72 190.90,643.80 C187.93,644.88 187.82,644.82 185.00,645.60 C182.18,646.38 178.48,647.57 174.00,648.50 C169.52,649.43 165.15,650.53 158.10,651.20 C151.05,651.87 140.58,651.97 131.70,652.50 C122.82,653.03 109.28,654.08 104.80,654.40 L104.80,654.40 C111.05,654.57 132.53,655.32 142.30,655.40 C152.07,655.48 157.23,655.25 163.40,654.90 C169.57,654.55 175.70,653.77 179.30,653.30 C182.90,652.83 182.07,652.70 185.00,652.10 C187.93,651.50 192.95,650.88 196.90,649.70 C200.85,648.52 204.75,646.97 208.70,645.00 C212.65,643.03 216.65,640.87 220.60,637.90 C224.55,634.93 229.03,631.17 232.40,627.20 C235.77,623.23 238.62,618.45 240.80,614.10 C242.98,609.75 244.32,605.63 245.50,601.10 C246.68,596.57 247.50,590.75 247.90,586.90 C248.30,583.05 247.90,579.48 247.90,578.00 Z" fill="#c8c8c8" stroke="#111" stroke-width="1.1" stroke-linejoin="round"/>
<line x1="193.4" y1="578" x2="248.1" y2="578" stroke="#111" stroke-width="1.1"/>
<g fill="none" stroke="#000" stroke-width="1.2" stroke-dasharray="1.3 0.9">
<path d="M160,656 L108.5,677.6"/><path d="M137.5,656 L108.5,677.6"/>
</g>
<path d="M143,656.5 L113,674.5 M150,656.5 L114,675.5" stroke="#222" stroke-width="0.9" fill="none"/>
<rect x="293.5" y="417.3" width="65.0" height="63.7" fill="#fff" stroke="#666" stroke-width="1" stroke-dasharray="1.2 1"/>
<text transform="translate(309.32,445.00) scale(1.0104,1)" font-size="17.10" >Max</text>
<text transform="translate(302.25,465.80) scale(0.9894,1)" font-size="17.20" >Stress</text>
<line x1="366.50" y1="443.00" x2="401.00" y2="443.00" stroke="#000" stroke-width="1.60"/>
<path d="M408.00,443.00L400.00,446.30L400.00,439.70Z" fill="#000"/>
<rect x="266.75" y="540.75" width="64.25" height="61.75" fill="#fff" stroke="#666" stroke-width="1" stroke-dasharray="1.2 1"/>
<text transform="translate(281.00,565.30) scale(1.0201,1)" font-size="17.10" >Max</text>
<text transform="translate(273.34,585.80) scale(1.0021,1)" font-size="17.20" >Stress</text>
<line x1="302.75" y1="607.00" x2="302.75" y2="640.00" stroke="#000" stroke-width="1.60"/>
<path d="M302.75,647.00L299.45,639.00L306.05,639.00Z" fill="#000"/>
<defs>
<linearGradient id="fg" x1="291" y1="521" x2="426" y2="434" gradientUnits="userSpaceOnUse">
<stop offset="0" stop-color="#1010b8"/>
<stop offset="0.05" stop-color="#1828d0"/>
<stop offset="0.1" stop-color="#2070e0"/>
<stop offset="0.15" stop-color="#20b8d8"/>
<stop offset="0.22" stop-color="#20d0a0"/>
<stop offset="0.3" stop-color="#30d058"/>
<stop offset="0.45" stop-color="#48d038"/>
<stop offset="0.58" stop-color="#90d020"/>
<stop offset="0.68" stop-color="#d8d020"/>
<stop offset="0.76" stop-color="#e8a818"/>
<stop offset="0.85" stop-color="#e87018"/>
<stop offset="0.93" stop-color="#d84810"/>
<stop offset="1" stop-color="#c83810"/>
</linearGradient>
<linearGradient id="fge" x1="291" y1="521" x2="426" y2="434" gradientUnits="userSpaceOnUse">
<stop offset="0" stop-color="#0a0aa0"/>
<stop offset="0.1" stop-color="#1838d0"/>
<stop offset="0.15" stop-color="#1890d0"/>
<stop offset="0.22" stop-color="#20c0a0"/>
<stop offset="0.3" stop-color="#28c050"/>
<stop offset="0.45" stop-color="#38c030"/>
<stop offset="0.58" stop-color="#60c020"/>
<stop offset="0.68" stop-color="#a0c820"/>
<stop offset="0.76" stop-color="#c0c820"/>
<stop offset="0.85" stop-color="#b0c020"/>
<stop offset="0.93" stop-color="#90b818"/>
<stop offset="1" stop-color="#80b018"/>
</linearGradient>
<linearGradient id="tipg" x1="294" y1="0" x2="330" y2="0" gradientUnits="userSpaceOnUse">
<stop offset="0" stop-color="#30c060"/>
<stop offset="0.15" stop-color="#e02010"/>
<stop offset="0.3" stop-color="#f0a000"/>
<stop offset="0.45" stop-color="#60e040"/>
<stop offset="0.6" stop-color="#10d0e0"/>
<stop offset="0.8" stop-color="#1060f0"/>
<stop offset="1" stop-color="#1a1ad8"/>
</linearGradient>
</defs>
<path d="M291.30,520.90 C294.22,521.43 301.92,523.70 308.80,524.10 C315.68,524.50 324.68,524.48 332.60,523.30 C340.52,522.12 348.38,520.17 356.30,517.00 C364.22,513.83 372.95,509.07 380.10,504.30 C387.25,499.53 393.92,493.68 399.20,488.40 C404.48,483.12 408.37,477.88 411.80,472.60 C415.23,467.32 417.68,461.47 419.80,456.70 C421.92,451.93 423.45,447.70 424.50,444.00 C425.55,440.30 425.83,436.08 426.10,434.50" fill="none" stroke="url(#fge)" stroke-width="6.0" stroke-linecap="butt"/>
<path d="M291.60,520.60 C294.52,521.13 302.22,523.40 309.10,523.80 C315.98,524.20 324.98,524.18 332.90,523.00 C340.82,521.82 348.68,519.87 356.60,516.70 C364.52,513.53 373.25,508.77 380.40,504.00 C387.55,499.23 394.22,493.38 399.50,488.10 C404.78,482.82 408.67,477.58 412.10,472.30 C415.53,467.02 417.98,461.17 420.10,456.40 C422.22,451.63 423.75,447.40 424.80,443.70 C425.85,440.00 426.13,435.78 426.40,434.20" fill="none" stroke="url(#fg)" stroke-width="3.6" stroke-linecap="butt"/>
<ellipse cx="426.2" cy="435.2" rx="3.0" ry="1.6" fill="#3cc070"/>
<defs>
<linearGradient id="hornb" x1="0" y1="0" x2="1" y2="1">
<stop offset="0" stop-color="#1212e6"/>
<stop offset="0.6" stop-color="#1010dc"/>
<stop offset="1" stop-color="#0c0cc8"/>
</linearGradient>
<linearGradient id="holeg" x1="372" y1="0" x2="410" y2="0" gradientUnits="userSpaceOnUse">
<stop offset="0" stop-color="#0707a4"/>
<stop offset="0.55" stop-color="#0808b0"/>
<stop offset="0.72" stop-color="#1616f0"/>
<stop offset="0.9" stop-color="#1a1af8"/>
<stop offset="1" stop-color="#1414e8"/>
</linearGradient>
</defs>
<path d="M294,655.6 C305,655 318,652 330,646 C343,637 347,620 348,600 L347.9,582 C352,568 372,561.8 392.8,561.8 C420,562 446,572 447.6,589 C449,610 440,630 428,644 C414,658 395,665 371.3,666.4 C345,666 320,662 294,658.3 Z" fill="url(#hornb)"/>
<path d="M347.9,582 C352,568 372,561.8 392.8,561.8 C420,562 446,572 447.6,589 C445,603 420,612 395,612 C370,611 349,600 347.9,582 Z" fill="#1313e6"/>
<ellipse cx="390.6" cy="585.9" rx="17.8" ry="12.6" fill="url(#holeg)"/>
<path d="M294,655.6 C305,655 318,652 330,646 L331,662.5 C318,661 306,659.5 294,658.3 Z" fill="url(#tipg)"/>
<line x1="592.00" y1="616.50" x2="935.10" y2="616.50" stroke="#7c7c7c" stroke-width="1" stroke-dasharray="1.4 2.3"/>
<line x1="592.00" y1="586.50" x2="935.10" y2="586.50" stroke="#7c7c7c" stroke-width="1" stroke-dasharray="1.4 2.3"/>
<line x1="592.00" y1="556.50" x2="935.10" y2="556.50" stroke="#7c7c7c" stroke-width="1" stroke-dasharray="1.4 2.3"/>
<line x1="592.00" y1="526.50" x2="935.10" y2="526.50" stroke="#7c7c7c" stroke-width="1" stroke-dasharray="1.4 2.3"/>
<line x1="592.00" y1="496.50" x2="935.10" y2="496.50" stroke="#7c7c7c" stroke-width="1" stroke-dasharray="1.4 2.3"/>
<line x1="592.00" y1="466.50" x2="935.10" y2="466.50" stroke="#7c7c7c" stroke-width="1" stroke-dasharray="1.4 2.3"/>
<line x1="592.00" y1="436.50" x2="935.10" y2="436.50" stroke="#7c7c7c" stroke-width="1" stroke-dasharray="1.4 2.3"/>
<line x1="592.00" y1="406.50" x2="935.10" y2="406.50" stroke="#7c7c7c" stroke-width="1" stroke-dasharray="1.4 2.3"/>
<line x1="592.00" y1="376.50" x2="935.10" y2="376.50" stroke="#7c7c7c" stroke-width="1" stroke-dasharray="1.4 2.3"/>
<line x1="648.35" y1="376.50" x2="648.35" y2="646.50" stroke="#7c7c7c" stroke-width="1" stroke-dasharray="1.4 2.3"/>
<line x1="705.70" y1="376.50" x2="705.70" y2="646.50" stroke="#7c7c7c" stroke-width="1" stroke-dasharray="1.4 2.3"/>
<line x1="763.05" y1="376.50" x2="763.05" y2="646.50" stroke="#7c7c7c" stroke-width="1" stroke-dasharray="1.4 2.3"/>
<line x1="820.40" y1="376.50" x2="820.40" y2="646.50" stroke="#7c7c7c" stroke-width="1" stroke-dasharray="1.4 2.3"/>
<line x1="877.75" y1="376.50" x2="877.75" y2="646.50" stroke="#7c7c7c" stroke-width="1" stroke-dasharray="1.4 2.3"/>
<line x1="935.10" y1="376.50" x2="935.10" y2="646.50" stroke="#7c7c7c" stroke-width="1" stroke-dasharray="1.4 2.3"/>
<line x1="591.00" y1="376.50" x2="591.00" y2="646.50" stroke="#777777" stroke-width="1.30" />
<line x1="591.00" y1="646.50" x2="935.10" y2="646.50" stroke="#777777" stroke-width="1.30" />
<line x1="591.00" y1="646.50" x2="594.50" y2="646.50" stroke="#777777" stroke-width="1.20" />
<line x1="591.00" y1="616.50" x2="594.50" y2="616.50" stroke="#777777" stroke-width="1.20" />
<line x1="591.00" y1="586.50" x2="594.50" y2="586.50" stroke="#777777" stroke-width="1.20" />
<line x1="591.00" y1="556.50" x2="594.50" y2="556.50" stroke="#777777" stroke-width="1.20" />
<line x1="591.00" y1="526.50" x2="594.50" y2="526.50" stroke="#777777" stroke-width="1.20" />
<line x1="591.00" y1="496.50" x2="594.50" y2="496.50" stroke="#777777" stroke-width="1.20" />
<line x1="591.00" y1="466.50" x2="594.50" y2="466.50" stroke="#777777" stroke-width="1.20" />
<line x1="591.00" y1="436.50" x2="594.50" y2="436.50" stroke="#777777" stroke-width="1.20" />
<line x1="591.00" y1="406.50" x2="594.50" y2="406.50" stroke="#777777" stroke-width="1.20" />
<line x1="591.00" y1="376.50" x2="594.50" y2="376.50" stroke="#777777" stroke-width="1.20" />
<line x1="648.35" y1="646.50" x2="648.35" y2="643.00" stroke="#777777" stroke-width="1.20" />
<line x1="705.70" y1="646.50" x2="705.70" y2="643.00" stroke="#777777" stroke-width="1.20" />
<line x1="763.05" y1="646.50" x2="763.05" y2="643.00" stroke="#777777" stroke-width="1.20" />
<line x1="820.40" y1="646.50" x2="820.40" y2="643.00" stroke="#777777" stroke-width="1.20" />
<line x1="877.75" y1="646.50" x2="877.75" y2="643.00" stroke="#777777" stroke-width="1.20" />
<line x1="935.10" y1="646.50" x2="935.10" y2="643.00" stroke="#777777" stroke-width="1.20" />
<text transform="translate(571.90,652.90)" font-size="17.30" >0</text>
<text transform="translate(572.08,622.90)" font-size="17.30" >1</text>
<text transform="translate(572.08,592.90)" font-size="17.30" >2</text>
<text transform="translate(572.08,562.90)" font-size="17.30" >3</text>
<text transform="translate(571.73,532.90)" font-size="17.30" >4</text>
<text transform="translate(572.08,502.90)" font-size="17.30" >5</text>
<text transform="translate(572.08,472.90)" font-size="17.30" >6</text>
<text transform="translate(572.08,442.90)" font-size="17.30" >7</text>
<text transform="translate(572.08,412.90)" font-size="17.30" >8</text>
<text transform="translate(572.08,383.50)" font-size="17.30" >9</text>
<text transform="translate(586.66,672.00)" font-size="17.30" >0</text>
<text transform="translate(632.07,672.00)" font-size="17.30" >0.05</text>
<text transform="translate(694.26,672.00)" font-size="17.30" >0.1</text>
<text transform="translate(746.77,672.00)" font-size="17.30" >0.15</text>
<text transform="translate(808.96,672.00)" font-size="17.30" >0.2</text>
<text transform="translate(861.47,672.00)" font-size="17.30" >0.25</text>
<text transform="translate(923.58,672.00)" font-size="17.30" >0.3</text>
<text transform="translate(746.04,704.50)" font-size="23.00" font-style="italic" >a</text>
<text transform="translate(757.75,711.00)" font-size="15.00" font-family="Liberation Serif" font-style="italic" >θ</text>
<text transform="translate(508.96,377.70) scale(1.0612,1)" font-size="24.50" font-weight="bold" >d</text>
<g transform="translate(540.5,571.5) rotate(-90)">
<text transform="translate(-0.57,0.00)" font-size="22.50" font-style="italic" >K</text>
<path d="M4.6,-21.1 L7.4,-24.4 L10.2,-21.1" fill="none" stroke="#000" stroke-width="1.1"/>
<text transform="translate(13.42,7.50)" font-size="14.00" font-style="italic" >i</text>
<text transform="translate(19.30,0.00)" font-size="21.50" >/</text>
<text transform="translate(27.02,0.00)" font-size="22.50" font-style="italic" >K</text>
<path d="M29.4,-21.1 L32.2,-24.4 L35.0,-21.1" fill="none" stroke="#000" stroke-width="1.1"/>
<text transform="translate(41.52,7.00)" font-size="14.00" font-style="italic" >i</text>
<text transform="translate(43.73,8.00)" font-size="14.50" >(</text>
<text transform="translate(49.24,7.50)" font-size="13.00" font-style="italic" >a</text>
<text transform="translate(56.88,10.50)" font-size="6.50" font-family="Liberation Serif" font-style="italic" >θ</text>
<text transform="translate(60.98,8.00)" font-size="14.50" >=</text>
<text transform="translate(69.52,8.00)" font-size="14.50" >0</text>
<text transform="translate(78.66,8.00)" font-size="14.50" >)</text>
</g>
<rect x="585.65" y="611.65" width="10.70" height="10.70" fill="none" stroke="#e80000" stroke-width="3.00"/>
<rect x="596.25" y="536.15" width="10.70" height="10.70" fill="none" stroke="#e80000" stroke-width="3.00"/>
<rect x="614.35" y="447.65" width="10.70" height="10.70" fill="none" stroke="#e80000" stroke-width="3.00"/>
<rect x="643.05" y="395.65" width="10.70" height="10.70" fill="none" stroke="#e80000" stroke-width="3.00"/>
<rect x="671.65" y="373.95" width="10.70" height="10.70" fill="none" stroke="#e80000" stroke-width="3.00"/>
<rect x="700.35" y="373.95" width="10.70" height="10.70" fill="none" stroke="#e80000" stroke-width="3.00"/>
<rect x="729.05" y="384.25" width="10.70" height="10.70" fill="none" stroke="#e80000" stroke-width="3.00"/>
<rect x="757.65" y="389.65" width="10.70" height="10.70" fill="none" stroke="#e80000" stroke-width="3.00"/>
<rect x="814.15" y="403.75" width="10.70" height="10.70" fill="none" stroke="#e80000" stroke-width="3.00"/>
<rect x="872.45" y="417.15" width="10.70" height="10.70" fill="none" stroke="#e80000" stroke-width="3.00"/>
<rect x="929.65" y="462.65" width="10.70" height="10.70" fill="none" stroke="#e80000" stroke-width="3.00"/>
<path d="M591.00,610.95L596.25,617.00L591.00,623.05L585.75,617.00Z" fill="none" stroke="#0000e0" stroke-width="3.10" stroke-linejoin="miter" stroke-miterlimit="10"/>
<path d="M602.30,535.95L607.55,542.00L602.30,548.05L597.05,542.00Z" fill="none" stroke="#0000e0" stroke-width="3.10" stroke-linejoin="miter" stroke-miterlimit="10"/>
<path d="M619.70,451.95L624.95,458.00L619.70,464.05L614.45,458.00Z" fill="none" stroke="#0000e0" stroke-width="3.10" stroke-linejoin="miter" stroke-miterlimit="10"/>
<path d="M648.40,410.70L653.65,416.75L648.40,422.80L643.15,416.75Z" fill="none" stroke="#0000e0" stroke-width="3.10" stroke-linejoin="miter" stroke-miterlimit="10"/>
<path d="M677.00,391.95L682.25,398.00L677.00,404.05L671.75,398.00Z" fill="none" stroke="#0000e0" stroke-width="3.10" stroke-linejoin="miter" stroke-miterlimit="10"/>
<path d="M705.70,391.95L710.95,398.00L705.70,404.05L700.45,398.00Z" fill="none" stroke="#0000e0" stroke-width="3.10" stroke-linejoin="miter" stroke-miterlimit="10"/>
<path d="M734.40,400.45L739.65,406.50L734.40,412.55L729.15,406.50Z" fill="none" stroke="#0000e0" stroke-width="3.10" stroke-linejoin="miter" stroke-miterlimit="10"/>
<path d="M763.00,409.45L768.25,415.50L763.00,421.55L757.75,415.50Z" fill="none" stroke="#0000e0" stroke-width="3.10" stroke-linejoin="miter" stroke-miterlimit="10"/>
<path d="M820.40,425.70L825.65,431.75L820.40,437.80L815.15,431.75Z" fill="none" stroke="#0000e0" stroke-width="3.10" stroke-linejoin="miter" stroke-miterlimit="10"/>
<path d="M877.80,430.70L883.05,436.75L877.80,442.80L872.55,436.75Z" fill="none" stroke="#0000e0" stroke-width="3.10" stroke-linejoin="miter" stroke-miterlimit="10"/>
<path d="M935.00,483.20L940.25,489.25L935.00,495.30L929.75,489.25Z" fill="none" stroke="#0000e0" stroke-width="3.10" stroke-linejoin="miter" stroke-miterlimit="10"/>
<ellipse cx="591.00" cy="617.00" rx="5.20" ry="5.46" fill="none" stroke="#000" stroke-width="2.90"/>
<ellipse cx="602.50" cy="597.00" rx="5.20" ry="5.46" fill="none" stroke="#000" stroke-width="2.90"/>
<ellipse cx="619.70" cy="543.30" rx="5.20" ry="5.46" fill="none" stroke="#000" stroke-width="2.90"/>
<ellipse cx="648.40" cy="480.50" rx="5.20" ry="5.46" fill="none" stroke="#000" stroke-width="2.90"/>
<ellipse cx="677.00" cy="394.50" rx="5.20" ry="5.46" fill="none" stroke="#000" stroke-width="2.90"/>
<ellipse cx="705.70" cy="403.60" rx="5.20" ry="5.46" fill="none" stroke="#000" stroke-width="2.90"/>
<ellipse cx="734.40" cy="420.70" rx="5.20" ry="5.46" fill="none" stroke="#000" stroke-width="2.90"/>
<ellipse cx="763.00" cy="454.25" rx="5.20" ry="5.46" fill="none" stroke="#000" stroke-width="2.90"/>
<ellipse cx="820.40" cy="456.00" rx="5.20" ry="5.46" fill="none" stroke="#000" stroke-width="2.90"/>
<ellipse cx="877.80" cy="507.50" rx="5.20" ry="5.46" fill="none" stroke="#000" stroke-width="2.90"/>
<ellipse cx="935.00" cy="544.00" rx="5.20" ry="5.46" fill="none" stroke="#000" stroke-width="2.90"/>
<text transform="translate(682.87,565.50) scale(1.0028,1)" font-size="16.70" >The</text>
<text transform="translate(674.39,586.00) scale(1.0122,1)" font-size="16.70" >spider</text>
<text transform="translate(681.33,606.00) scale(1.0055,1)" font-size="16.70" >fang</text>
<rect x="655.5" y="373.2" width="86.5" height="273.3" fill="rgba(0,255,255,0.2)" stroke="#000" stroke-width="2" stroke-dasharray="3 2"/>
<rect x="756.6" y="519.2" width="77.1" height="125.1" fill="#fff" stroke="#666" stroke-width="1.2"/>
<text transform="translate(798.94,539.80) scale(0.9974,1)" font-size="17.00" >FE</text>
<text transform="translate(770.64,565.90)" font-size="15.30" font-style="italic" >K</text>
<text transform="translate(779.73,570.50)" font-size="9.60" >1</text>
<path d="M772.70,551.53 L774.70,549.13 L776.70,551.53" fill="none" stroke="#000" stroke-width="0.9"/>
<text transform="translate(770.64,597.00)" font-size="15.30" font-style="italic" >K</text>
<text transform="translate(780.02,601.60)" font-size="9.60" >2</text>
<path d="M772.70,582.63 L774.70,580.23 L776.70,582.63" fill="none" stroke="#000" stroke-width="0.9"/>
<text transform="translate(770.64,630.00)" font-size="15.30" font-style="italic" >K</text>
<text transform="translate(780.12,634.60)" font-size="9.60" >3</text>
<path d="M772.70,615.63 L774.70,613.23 L776.70,615.63" fill="none" stroke="#000" stroke-width="0.9"/>
<ellipse cx="809.10" cy="561.00" rx="5.60" ry="5.88" fill="none" stroke="#000" stroke-width="1.80"/>
<path d="M808.70,587.90L815.60,594.40L808.70,600.90L801.80,594.40Z" fill="none" stroke="#0000e0" stroke-width="2.00" stroke-linejoin="miter" stroke-miterlimit="10"/>
<rect x="803.40" y="620.90" width="10.60" height="10.60" fill="none" stroke="#d81818" stroke-width="2.00"/>
</svg></body></html>
